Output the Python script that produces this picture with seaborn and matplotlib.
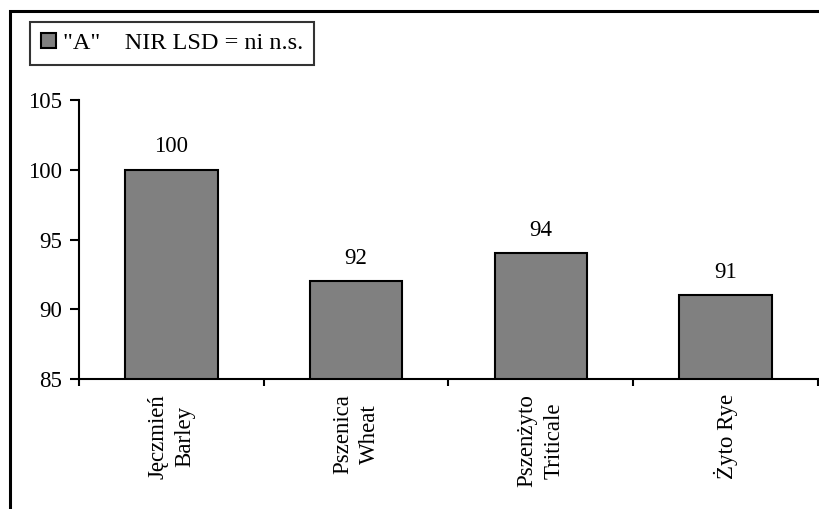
import matplotlib
matplotlib.use("Agg")
import matplotlib.pyplot as plt
from matplotlib.patches import Rectangle
import seaborn as sns
import pandas as pd

# Relative yield of cereal species
species_pl = ["Jęczmień", "Pszenica", "Pszenżyto", "Żyto"]
species_en = ["Barley", "Wheat", "Triticale", "Rye"]
values = [100, 92, 94, 91]
tick_labels = ["Jęczmień\nBarley", "Pszenica\nWheat", "Pszenżyto\nTriticale", "Żyto Rye"]
series_label = '"A"    NIR LSD = ni n.s.'

FS = 16.5

sns.set_theme(style="white")
plt.rcParams["font.family"] = ["Liberation Serif", "DejaVu Serif"]
plt.rcParams["font.size"] = FS
for key in ["text.color", "xtick.color", "ytick.color", "axes.labelcolor"]:
    plt.rcParams[key] = "black"

df = pd.DataFrame({"species": tick_labels, "value": values})

fig = plt.figure(figsize=(8.2, 5.09), dpi=100)
ax = fig.add_axes([79 / 820, 1 - 379 / 509, (818 - 79) / 820, (379 - 100) / 509])

sns.barplot(data=df, x="species", y="value", color="#808080", width=0.5,
            edgecolor="black", linewidth=1.5, saturation=1, ax=ax,
            label=series_label, legend=False)
if ax.get_legend() is not None:
    ax.get_legend().remove()

ax.set_ylim(85, 105)
ax.set_xlim(-0.5, 3.5)
ax.set_yticks([85, 90, 95, 100, 105])
ax.set_xlabel("")
ax.set_ylabel("")

# category labels centred, category boundaries marked by outward ticks
ax.set_xticks(range(len(tick_labels)))
ax.set_xticklabels(tick_labels, rotation=90, va="top", ha="center",
                   multialignment="center", linespacing=1.4, fontsize=FS)
ax.set_xticks([-0.5, 0.5, 1.5, 2.5, 3.5], minor=True)
ax.tick_params(axis="x", which="major", length=0, pad=11)
ax.tick_params(axis="x", which="minor", length=5, width=1.5, direction="out",
               bottom=True, color="black")
ax.tick_params(axis="y", length=6.5, width=1.5, direction="out", left=True,
               color="black", labelsize=FS, pad=6)

for s in ["top", "right"]:
    ax.spines[s].set_visible(False)
for s in ["left", "bottom"]:
    ax.spines[s].set_color("black")
    ax.spines[s].set_linewidth(1.5)

for bar, v in zip(ax.patches, values):
    ax.annotate(f"{v}", (bar.get_x() + bar.get_width() / 2, v),
                xytext=(0, 9), textcoords="offset points",
                ha="center", va="bottom", fontsize=FS)

handles, labels = ax.get_legend_handles_labels()
leg = fig.legend(handles[:1], labels[:1], loc="upper left",
                 bbox_to_anchor=(30 / 820, 1 - 22 / 509),
                 frameon=True, fancybox=False, edgecolor="black",
                 handlelength=0.6, handleheight=0.6, handletextpad=0.3,
                 borderpad=0.45, fontsize=17.5, borderaxespad=0)
leg.get_frame().set_linewidth(1.5)

# outer chart border
fig.add_artist(Rectangle((10 / 820, -0.5), 2.0, (1 - 11 / 509) + 0.5,
                         transform=fig.transFigure, fill=False,
                         edgecolor="black", linewidth=2.2))

fig.savefig("out.png", dpi=100, facecolor="white")
